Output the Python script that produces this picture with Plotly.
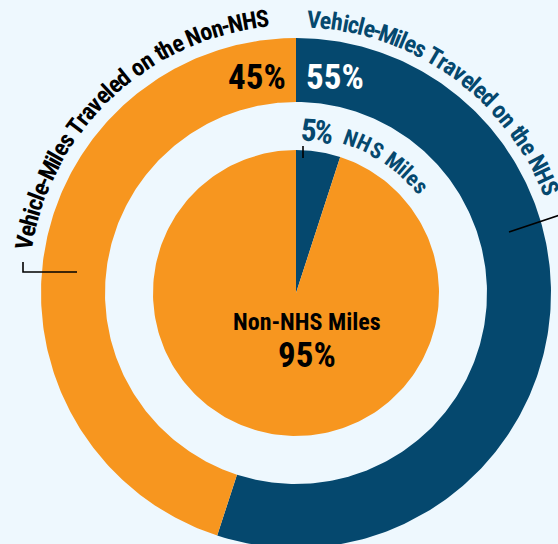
import numpy as np
import plotly.graph_objects as go

# ---------------- data ----------------
outer_labels = ["Vehicle-Miles Traveled on the NHS", "Vehicle-Miles Traveled on the Non-NHS"]
outer_values = [55, 45]
inner_labels = ["NHS Miles", "Non-NHS Miles"]
inner_values = [5, 95]
slice_colors = ["#05486E", "#F7961F"]

BG = "#EEF8FE"
FONT = "Liberation Sans Narrow, Roboto Condensed, DejaVu Sans Condensed, Arial Narrow, sans-serif"

W, H = 558, 544
CX, CY = 296, 293
R_OUT, R_OUT_IN = 255, 191
R_PIE = 143

fig = go.Figure()


def sector(th0, th1, r_in, r_out, n=240):
    t = np.radians(np.linspace(th0, th1, n))
    xo = CX + r_out * np.sin(t)
    yo = CY - r_out * np.cos(t)
    if r_in > 0:
        xi = CX + r_in * np.sin(t[::-1])
        yi = CY - r_in * np.cos(t[::-1])
    else:
        xi = np.array([CX])
        yi = np.array([CY])
    x = np.concatenate([xo, xi, xo[:1]])
    y = np.concatenate([yo, yi, yo[:1]])
    return x, y


def add_ring(values, labels, r_in, r_out):
    total = float(sum(values))
    start = 0.0
    for v, lab, col in zip(values, labels, slice_colors):
        span = 360.0 * v / total
        x, y = sector(start, start + span, r_in, r_out)
        fig.add_trace(go.Scatter(x=x, y=y, mode="lines", fill="toself",
                                 fillcolor=col, line=dict(width=0, color=col),
                                 name=lab, hoverinfo="skip", showlegend=False))
        start += span


add_ring(outer_values, outer_labels, R_OUT_IN, R_OUT)
add_ring(inner_values, inner_labels, 0, R_PIE)

# ---------------- curved text ----------------
CW = {'V': 667, 'e': 556, 'h': 611, 'i': 278, 'c': 556, 'l': 278, '-': 333, 'M': 833,
      's': 556, ' ': 278, 'T': 611, 'r': 389, 'a': 556, 'v': 556, 'd': 611, 'o': 611,
      'n': 611, 't': 333, 'N': 722, 'H': 722, 'S': 667, '5': 556, '%': 889}

annotations = []


def arc_text(text, r, th_first, th_last, size, color):
    w = [CW.get(c, 556) for c in text]
    cum = np.cumsum([0] + w[:-1])
    centers = cum + np.array(w) / 2.0
    c0, c1 = centers[0], centers[-1]
    for ch, c in zip(text, centers):
        if ch == ' ':
            continue
        th = th_first + (c - c0) / (c1 - c0) * (th_last - th_first)
        t = np.radians(th)
        annotations.append(dict(
            x=CX + r * np.sin(t), y=CY - r * np.cos(t), xref="x", yref="y",
            text=ch, showarrow=False, textangle=th,
            xanchor="center", yanchor="middle",
            font=dict(family=FONT, size=size, color=color, weight=700)))


arc_text(outer_labels[1], 276, -79.5, -6.9, 24, "#000000")
arc_text(outer_labels[0], 274, 3.8, 67.5, 24, slice_colors[0])
arc_text(inner_labels[0], 164, 19.5, 49.5, 22, slice_colors[0])
# "5%" leading label
arc_text(f"{inner_values[0]}%", 163, 4.5, 10.0, 31, slice_colors[0])


def label(x, y, text, size, color):
    annotations.append(dict(x=x, y=y, xref="x", yref="y", text=text, showarrow=False,
                            xanchor="center", yanchor="middle",
                            font=dict(family=FONT, size=size, color=color, weight=700)))


label(257, 77, f"{outer_values[1]}%", 35, "#000000")
label(335, 77, f"{outer_values[0]}%", 35, "#FFFFFF")
label(307, 322, inner_labels[1], 24, "#000000")
label(307, 355, f"{inner_values[1]}%", 35, "#000000")

# leader lines
shapes = [
    dict(type="path", path="M 23 262 L 23 272 L 77 272", xref="x", yref="y",
         line=dict(color="#000000", width=1.6)),
    dict(type="line", x0=509, y0=232, x1=572, y1=211, xref="x", yref="y",
         line=dict(color="#000000", width=1.6)),
    dict(type="line", x0=303, y0=146, x1=303, y1=158, xref="x", yref="y",
         line=dict(color="#000000", width=1.6)),
]

fig.update_layout(
    width=W, height=H,
    margin=dict(l=0, r=0, t=0, b=0),
    paper_bgcolor=BG, plot_bgcolor=BG,
    xaxis=dict(range=[0, W], visible=False, fixedrange=True),
    yaxis=dict(range=[H, 0], visible=False, fixedrange=True),
    annotations=annotations, shapes=shapes, showlegend=False,
)

fig.write_html("out.html", config={"displayModeBar": False},
               post_script="document.body.style.margin='0';document.body.style.padding='0';"
                           "document.body.style.overflow='hidden';"
                           "document.body.style.background='" + BG + "';")
